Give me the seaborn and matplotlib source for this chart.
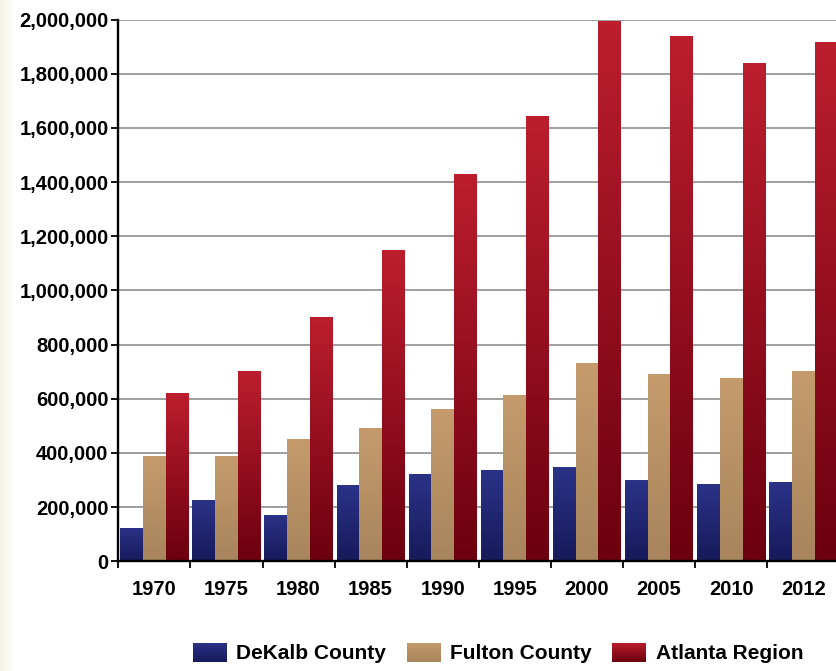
import numpy as np
import pandas as pd
import matplotlib
matplotlib.use("Agg")
import matplotlib.pyplot as plt
import seaborn as sns
from matplotlib.colors import LinearSegmentedColormap
from matplotlib.patches import Rectangle
from matplotlib.ticker import FuncFormatter, FixedLocator

# ---- data ----
years = ["1970", "1975", "1980", "1985", "1990", "1995", "2000", "2005", "2010", "2012"]
dekalb = [123000, 226000, 171000, 282000, 322000, 337000, 348000, 300000, 285000, 293000]
fulton = [390000, 390000, 451000, 492000, 562000, 614000, 732000, 691000, 676000, 702000]
atlanta = [622000, 703000, 903000, 1148000, 1429000, 1642000, 1994000, 1938000, 1841000, 1918000]
series_names = ["DeKalb County", "Fulton County", "Atlanta Region"]

# gradient colours (top, bottom)
grads = [("#2b3388", "#171a5a"), ("#c59b6c", "#a7855d"), ("#bc1e2e", "#6c000f")]
flat = ["#232a78", "#b8916a", "#961524"]

df = pd.DataFrame({
    "year": years * 3,
    "value": dekalb + fulton + atlanta,
    "series": [series_names[0]] * len(years) + [series_names[1]] * len(years) + [series_names[2]] * len(years),
})

sns.set_theme(style="white")
plt.rcParams["font.family"] = ["Liberation Sans", "DejaVu Sans"]
plt.rcParams["font.weight"] = "bold"
plt.rcParams["text.color"] = "black"

W, H = 836, 671
fig = plt.figure(figsize=(W / 100, H / 100), dpi=100)
fig.patch.set_facecolor("white")

# faint cream strip on the left edge
bg = fig.add_axes([0, 0, 14 / W, 1], zorder=-5)
cmap_bg = LinearSegmentedColormap.from_list("bg", ["#f5f2e6", "#ffffff"])
bg.imshow(np.linspace(0, 1, 64)[None, :], cmap=cmap_bg, aspect="auto", extent=[0, 1, 0, 1])
bg.set_axis_off()

ax = fig.add_axes([118.3 / W, 109.7 / H, 721 / W, 541.8 / H])
ax.set_facecolor("white")

sns.barplot(data=df, x="year", y="value", hue="series", hue_order=series_names,
            palette=flat, width=0.945, saturation=1, legend=False, ax=ax, zorder=3)

ax.set_xlim(-0.5, len(years) - 0.5)
ax.set_ylim(0, 2000000)

# gradient fills on bars
for ci, cont in enumerate(ax.containers):
    cm = LinearSegmentedColormap.from_list("g%d" % ci, [grads[ci][1], grads[ci][0]])
    for p in cont.patches:
        x0 = p.get_x()
        w = p.get_width()
        h = p.get_height()
        p.set_facecolor("none")
        p.set_edgecolor("none")
        im = ax.imshow(np.linspace(0, 1, 128)[:, None], cmap=cm, origin="lower",
                       extent=[x0, x0 + w, 0, h], aspect="auto", zorder=3)
        im.set_clip_path(p)

ax.set_xlim(-0.5, len(years) - 0.5)
ax.set_ylim(0, 2000000)

# grid
ax.set_yticks(np.arange(0, 2000001, 200000))
ax.yaxis.set_major_formatter(FuncFormatter(lambda v, _: f"{int(v):,}"))
for yv in np.arange(200000, 2000001, 200000):
    ax.axhline(yv, color="#858585", lw=1.1, zorder=1)

# spines
for s in ["top", "right"]:
    ax.spines[s].set_visible(False)
for s in ["left", "bottom"]:
    ax.spines[s].set_color("black")
    ax.spines[s].set_linewidth(1.7)
    ax.spines[s].set_zorder(5)

# ticks
ax.set_xticks(range(len(years)))
ax.set_xticklabels(years)
ax.xaxis.set_minor_locator(FixedLocator(np.arange(-0.5, len(years), 1.0)))
ax.tick_params(axis="x", which="major", length=0, pad=13.5, labelsize=14.5, colors="black")
ax.tick_params(axis="x", which="minor", bottom=True, length=5, width=1.3, color="black", direction="out")
ax.tick_params(axis="y", which="major", left=True, length=5, width=1.3, color="black",
               direction="out", pad=2, labelsize=14.5, labelcolor="black")
for lab in ax.get_xticklabels() + ax.get_yticklabels():
    lab.set_fontweight("bold")

ax.set_xlabel("")
ax.set_ylabel("")

# legend
handles = [Rectangle((0, 0), 1, 1, facecolor=flat[i], edgecolor="none") for i in range(3)]
leg = fig.legend(handles, series_names, loc="center", bbox_to_anchor=(498 / W, 18 / H),
                 bbox_transform=fig.transFigure, ncol=3, frameon=False,
                 prop={"size": 15, "weight": "bold"}, handlelength=1.6, handleheight=1.05,
                 handletextpad=0.47, columnspacing=1.0, borderaxespad=0, borderpad=0,
                 labelcolor="black")

# gradient legend swatches
fig.canvas.draw()
inv = fig.transFigure.inverted()
for i, hp in enumerate(leg.get_patches()):
    bb = hp.get_window_extent()
    (fx0, fy0), (fx1, fy1) = inv.transform([[bb.x0, bb.y0], [bb.x1, bb.y1]])
    lax = fig.add_axes([fx0, fy0, fx1 - fx0, fy1 - fy0], zorder=10)
    cm = LinearSegmentedColormap.from_list("l%d" % i, [grads[i][1], grads[i][0]])
    lax.imshow(np.linspace(0, 1, 64)[:, None], cmap=cm, origin="lower", aspect="auto",
               extent=[0, 1, 0, 1])
    lax.set_axis_off()

fig.savefig("out.png", dpi=100, facecolor=fig.get_facecolor())
